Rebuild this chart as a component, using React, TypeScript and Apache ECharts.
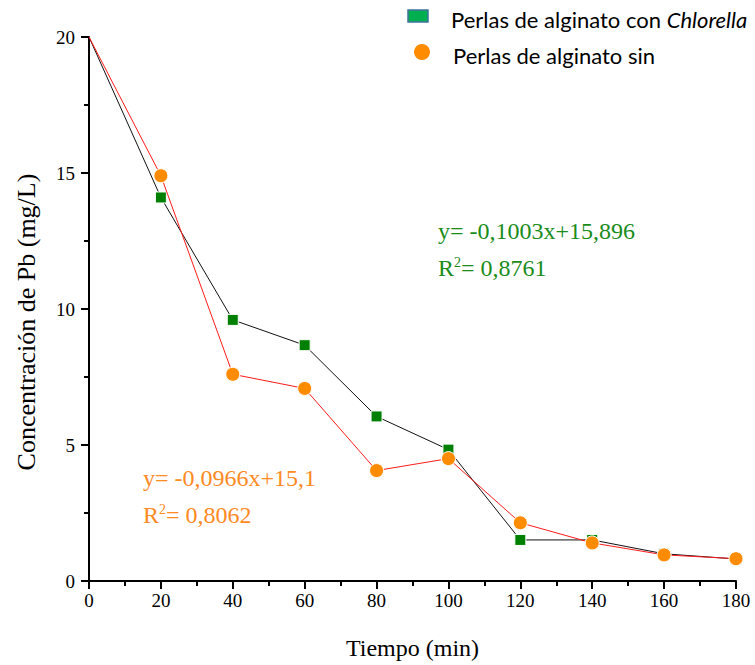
import React, { useEffect, useRef } from "react";
import * as echarts from "echarts";

const tiempo = [0, 20, 40, 60, 80, 100, 120, 140, 160, 180];
const conChlorella = [20, 14.1, 9.6, 8.67, 6.05, 4.83, 1.51, 1.51, 1.0, 0.81];
const sinChlorella = [20, 14.9, 7.6, 7.08, 4.06, 4.5, 2.14, 1.4, 0.96, 0.82];
const legendNames = ["Perlas de alginato con ", "Chlorella", "Perlas de alginato sin"];
const eqGreen = ["y= -0,1003x+15,896", "R", "2", "= 0,8761"];
const eqOrange = ["y= -0,0966x+15,1", "R", "2", "= 0,8062"];

const GREEN = "#008000";
const ORANGE = "#ff8c00";
const GREEN_TXT = "#1a8c1a";
const ORANGE_TXT = "#ff8a1f";
const SERIF = "Liberation Serif";

export default function App() {
  const ref = useRef<HTMLDivElement>(null);
  useEffect(() => {
    if (!ref.current) return;
    const chart = echarts.init(ref.current, undefined, { renderer: "svg" });
    const mk = (ys: number[]) =>
      tiempo.map((x, i) =>
        i === 0 ? { value: [x, ys[i]], symbol: "none" } : { value: [x, ys[i]] }
      );
    chart.setOption({
      animation: false,
      backgroundColor: "#ffffff",
      textStyle: { fontFamily: SERIF },
      grid: { left: 89, right: 19, top: 37, bottom: 83, containLabel: false },
      xAxis: {
        type: "value",
        min: 0,
        max: 180,
        interval: 20,
        name: "Tiempo (min)",
        nameLocation: "middle",
        nameGap: 55,
        nameTextStyle: { fontFamily: SERIF, fontSize: 24, color: "#000", fontWeight: "normal" },
        axisLine: { lineStyle: { color: "#000", width: 2 } },
        axisTick: { inside: false, length: 8, lineStyle: { color: "#000", width: 2 } },
        minorTick: { show: true, splitNumber: 2, length: 5, lineStyle: { color: "#000", width: 2 } },
        axisLabel: { fontFamily: SERIF, fontSize: 19, color: "#000", margin: 10 },
        splitLine: { show: false },
      },
      yAxis: {
        type: "value",
        min: 0,
        max: 20,
        interval: 5,
        name: "Concentración de Pb (mg/L)",
        nameLocation: "middle",
        nameGap: 50,
        nameTextStyle: {
          fontFamily: SERIF,
          fontSize: 26,
          color: "#000",
          fontWeight: "normal",
          padding: [0, 26, 0, 0],
        },
        axisLine: { show: true, lineStyle: { color: "#000", width: 2 } },
        axisTick: { show: true, inside: false, length: 8, lineStyle: { color: "#000", width: 2 } },
        minorTick: { show: true, splitNumber: 2, length: 5, lineStyle: { color: "#000", width: 2 } },
        axisLabel: { fontFamily: SERIF, fontSize: 19, color: "#000", margin: 14 },
        splitLine: { show: false },
      },
      series: [
        {
          name: "con",
          type: "line",
          data: mk(conChlorella),
          symbol: "rect",
          symbolSize: 11,
          lineStyle: { color: "#111", width: 1 },
          itemStyle: { color: GREEN, borderColor: "#fff", borderWidth: 1 },
          z: 2,
        },
        {
          name: "sin",
          type: "line",
          data: mk(sinChlorella),
          symbol: "circle",
          symbolSize: 14,
          lineStyle: { color: "#ff1a1a", width: 1 },
          itemStyle: { color: ORANGE, borderColor: "#fff", borderWidth: 1 },
          z: 3,
        },
      ],
      graphic: [
        {
          type: "rect",
          shape: { x: 408, y: 10, width: 20, height: 12 },
          style: { fill: "#00b050", stroke: "#41719c", lineWidth: 1.5 },
        },
        {
          type: "text",
          x: 451,
          y: 19,
          style: {
            text: "{n|" + legendNames[0] + "}{i|" + legendNames[1] + "}",
            verticalAlign: "middle",
            rich: {
              n: { fontFamily: "Lato", fontSize: 22, fill: "#000" },
              i: { fontFamily: "Lato", fontSize: 22, fontStyle: "italic", fill: "#000" },
            },
          },
        },
        {
          type: "circle",
          shape: { cx: 422, cy: 52, r: 8 },
          style: { fill: ORANGE },
        },
        {
          type: "text",
          x: 453,
          y: 55,
          style: {
            text: legendNames[2],
            verticalAlign: "middle",
            fontFamily: "Lato",
            fontSize: 22,
            fill: "#000",
          },
        },
        {
          type: "text",
          x: 438,
          y: 231,
          style: { text: eqGreen[0], fontFamily: SERIF, fontSize: 24, fill: GREEN_TXT, verticalAlign: "middle" },
        },
        {
          type: "text",
          x: 438,
          y: 268,
          style: {
            text: "{a|" + eqGreen[1] + "}{s|" + eqGreen[2] + "}{a|" + eqGreen[3] + "}",
            verticalAlign: "middle",
            rich: {
              a: { fontFamily: SERIF, fontSize: 24, fill: GREEN_TXT },
              s: { fontFamily: SERIF, fontSize: 14, fill: GREEN_TXT, verticalAlign: "top", padding: [0, 0, 11, 0] },
            },
          },
        },
        {
          type: "text",
          x: 143,
          y: 478,
          style: { text: eqOrange[0], fontFamily: SERIF, fontSize: 24, fill: ORANGE_TXT, verticalAlign: "middle" },
        },
        {
          type: "text",
          x: 143,
          y: 515,
          style: {
            text: "{a|" + eqOrange[1] + "}{s|" + eqOrange[2] + "}{a|" + eqOrange[3] + "}",
            verticalAlign: "middle",
            rich: {
              a: { fontFamily: SERIF, fontSize: 24, fill: ORANGE_TXT },
              s: { fontFamily: SERIF, fontSize: 14, fill: ORANGE_TXT, verticalAlign: "top", padding: [0, 0, 11, 0] },
            },
          },
        },
      ],
    });
    return () => chart.dispose();
  }, []);
  return (
    <div
      ref={ref}
      style={{ position: "fixed", left: 0, top: 0, width: 755, height: 665, background: "#fff" }}
    />
  );
}
